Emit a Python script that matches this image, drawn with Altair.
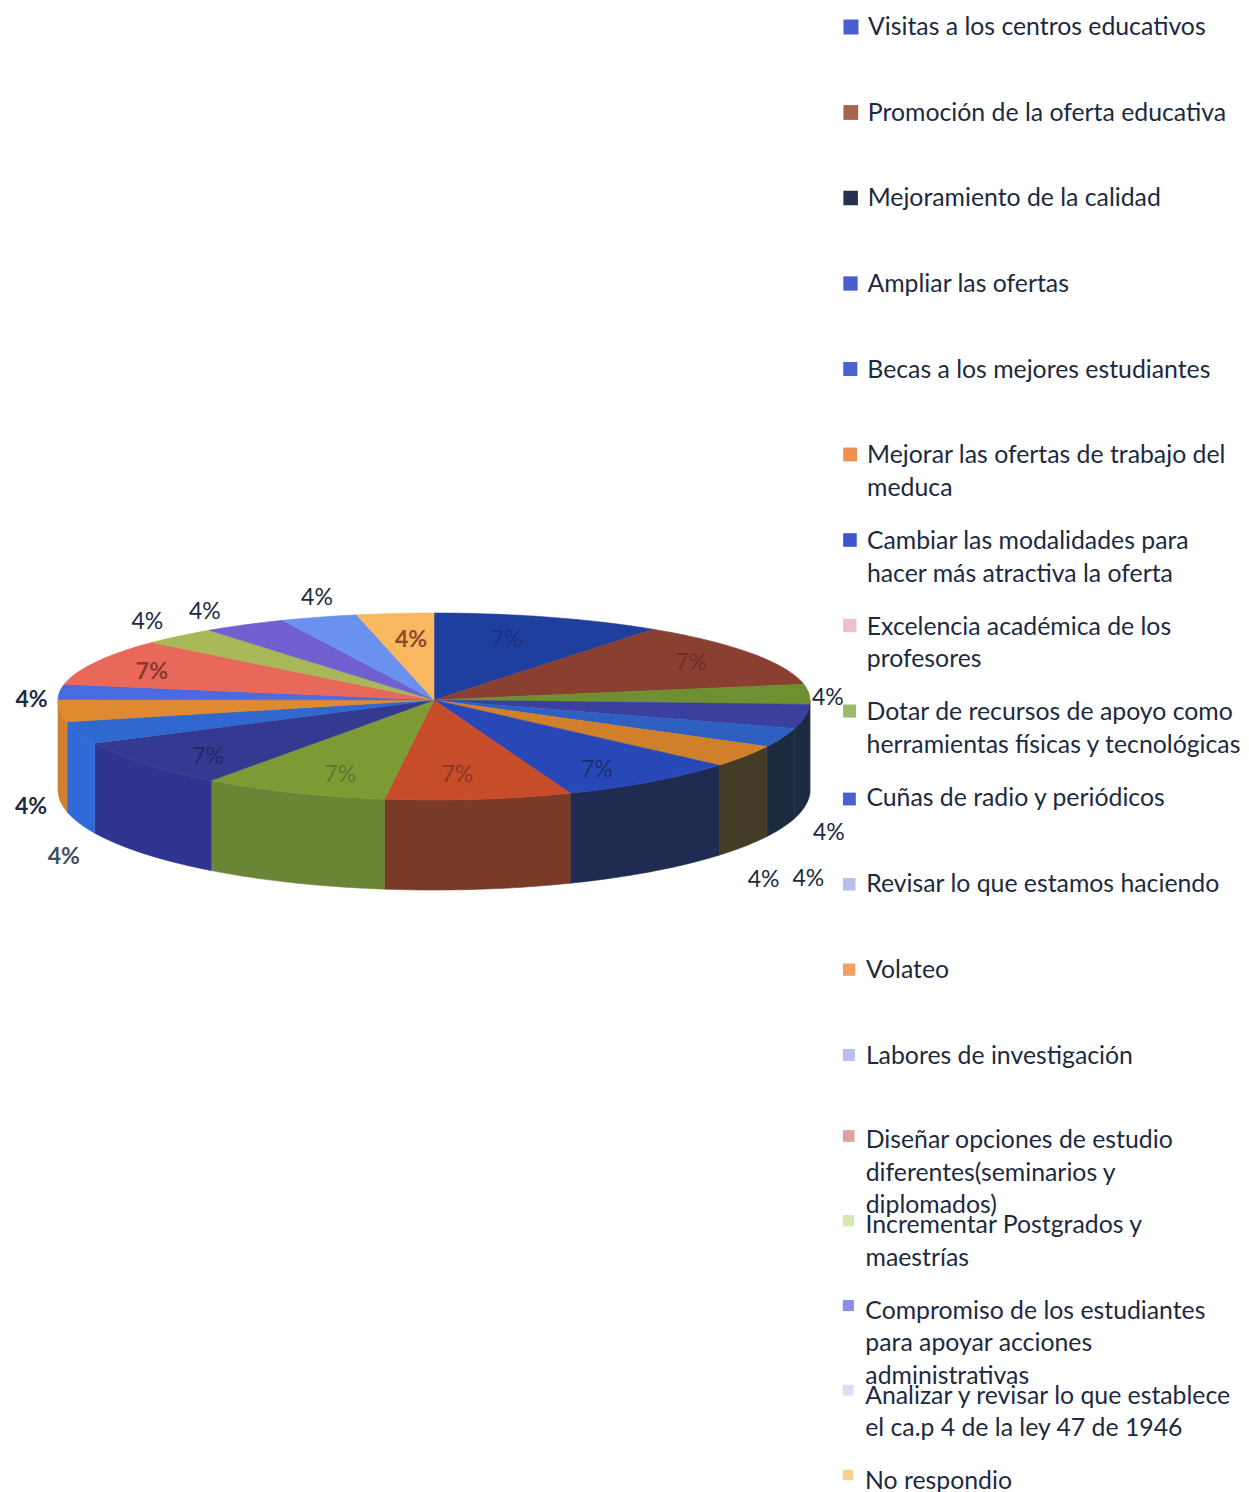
import math
import altair as alt

categories = [
    "Visitas a los centros educativos",
    "Promoción de la oferta educativa",
    "Mejoramiento de la calidad",
    "Ampliar las ofertas",
    "Becas a los mejores estudiantes",
    "Mejorar las ofertas de trabajo del\nmeduca",
    "Cambiar las modalidades para\nhacer más atractiva la oferta",
    "Excelencia académica de los\nprofesores",
    "Dotar de recursos de apoyo como\nherramientas físicas y  tecnológicas",
    "Cuñas de radio y periódicos",
    "Revisar lo que estamos haciendo",
    "Volateo",
    "Labores de investigación",
    "Diseñar opciones de estudio\ndiferentes(seminarios y\ndiplomados)",
    "Incrementar Postgrados y\nmaestrías",
    "Compromiso de los estudiantes\npara apoyar acciones\nadministrativas",
    "Analizar y revisar lo que establece\nel ca.p 4  de la ley 47 de 1946",
    "No respondio",
]
# Apparent share of the drawn disc (percent of the turn)
shares = [9.9, 12.2, 3.6, 3.9, 3.1, 3.6, 7.8, 8.0, 8.0, 7.8, 3.6, 3.6, 2.8, 8.6, 3.3, 3.6, 3.3, 3.3]
labels = ["7%", "7%", "4%", "4%", "4%", "4%", "7%", "7%", "7%", "7%", "4%", "4%", "4%", "7%", "4%", "4%", "4%", "4%"]

top_colors = ["#1f3f9e", "#8a4030", "#6f9030", "#3b3f9e", "#2f5fc0", "#d0802a", "#2848b8", "#c64c2a", "#7d9a35",
              "#343a90", "#3068d0", "#e08a30", "#4a6ae0", "#e8685a", "#a8b858", "#7060d0", "#6a90f0", "#f8b860"]
wall_colors = ["#1f3f9e", "#8a4030", "#1c2b40", "#1c2b40", "#1c2b40", "#453c28", "#1f2b50", "#7a3a28", "#6a8535",
               "#2f3490", "#2f6ad8", "#d08030", "#4a6ae0", "#e8685a", "#a8b858", "#7060d0", "#6a90f0", "#f8b860"]
legend_colors = ["#4a5fcf", "#a66450", "#27304f", "#4a5fcf", "#4a62d0", "#f09050", "#3c55cc", "#ecc0c8", "#9db96a",
                 "#4a60d0", "#b8bfef", "#f0a060", "#b8bfef", "#e0a0a0", "#d5e8b5", "#8a90e8", "#d8e0f5", "#f8d090"]
label_colors = ["#1f3080", "#6a3025", "#1c2a3f", "#1c2a3f", "#1c2a3f", "#1c2a3f", "#1c2f70", "#8a3a20", "#5a7a30",
                "#222a60", "#3f4f60", "#1c2a3f", "#1c2a3f", "#8a3a30", "#1c2a3f", "#1c2a3f", "#1c2a3f", "#8a4a30"]

# ---- layout of the tilted disc (page pixels) ----
M = 8
CX, CY, RX, RY_BACK, RY_FRONT, DEPTH = 434 - M, 700 - M, 376, 87, 100, 90
RADIAL = [.63, .81, 1.05, 1.065, 1.075, 1.06, .75, .52, .667, .78, 1.042, 1.078, 1.075, .834, 1.125, 1.21, 1.017, .59]
LIFT = [-8, 1, 4, 115, 138, 120, 9, 23, 13, 7, 123, 96, 9, 4, -6, 3, -18, -9]
BOLD = [10, 11, 12, 13, 17]


def rim(t, k=1.0, drop=0.0):
    c = math.cos(t)
    ry = RY_BACK if c > 0 else RY_FRONT
    return [CX + k * RX * math.sin(t), CY - k * ry * c + drop]


def arc(a, b):
    n = max(2, int(abs(b - a) / math.radians(1)))
    return [a + (b - a) * i / n for i in range(n + 1)]


total = sum(shares)
bounds = [0.0]
for s in shares:
    bounds.append(bounds[-1] + s / total * 2 * math.pi)

tops, walls, label_rows = [], [], []
for i in range(len(shares)):
    a, b = bounds[i], bounds[i + 1]
    ring = [[CX, CY]] + [rim(t) for t in arc(a, b)] + [[CX, CY]]
    tops.append({"type": "Feature", "properties": {"fill": top_colors[i]},
                 "geometry": {"type": "Polygon", "coordinates": [ring]}})
    lo, hi = max(a, math.pi / 2), min(b, 3 * math.pi / 2)
    if hi > lo:
        ts = arc(lo, hi)
        wring = [rim(t) for t in ts] + [rim(t, drop=DEPTH) for t in reversed(ts)]
        wring.append(wring[0])
        walls.append({"type": "Feature", "properties": {"fill": wall_colors[i]},
                      "geometry": {"type": "Polygon", "coordinates": [wring]}})
    mid = (a + b) / 2
    p = rim(mid, RADIAL[i], LIFT[i])
    label_rows.append({"lx": p[0], "ly": p[1], "label": labels[i], "c": label_colors[i], "heavy": i in BOLD})

W, H = 1233, 1484


def geo(features):
    return alt.Chart(alt.InlineData(values=features)).mark_geoshape(strokeWidth=0.6).encode(
        fill=alt.Fill("properties.fill:N", scale=None),
        stroke=alt.Stroke("properties.fill:N", scale=None),
    ).project(type="identity", scale=1, translate=[0, 0])


px_x = alt.Scale(domain=[0, W], range=[0, W])
px_y = alt.Scale(domain=[0, H], range=[0, H])


def pie_text(heavy):
    subset = [r for r in label_rows if r["heavy"] == heavy]
    return alt.Chart(alt.Data(values=subset)).mark_text(
        font="Lato", fontSize=23, align="center", baseline="middle", fontWeight="bold" if heavy else "normal"
    ).encode(
        x=alt.X("lx:Q", scale=px_x, axis=None),
        y=alt.Y("ly:Q", scale=px_y, axis=None),
        text="label:N",
        color=alt.Color("c:N", scale=None),
    )


rows = [{"row": i, "name": categories[i], "c": legend_colors[i]} for i in range(len(categories))]

legend_marks = alt.Chart(alt.Data(values=rows)).mark_square(opacity=1).encode(
    x=alt.X("row:Q", scale=alt.Scale(domain=[0, 17], range=[851 - M, 848 - M]), axis=None),
    y=alt.Y("row:Q", scale=alt.Scale(domain=[0, 8, 9, 12, 13, 17],
                                     range=[27 - M, 711 - M, 799 - M, 1055 - M, 1136 - M, 1475 - M]), axis=None),
    size=alt.Size("row:Q", scale=alt.Scale(domain=[0, 17], range=[225, 110]), legend=None),
    color=alt.Color("c:N", scale=None),
)

legend_text = alt.Chart(alt.Data(values=rows)).mark_text(
    font="Lato", fontSize=24.8, align="left", baseline="alphabetic", lineBreak="\n", lineHeight=32.5, color="#1c2a3f"
).encode(
    x=alt.X("row:Q", scale=alt.Scale(domain=[0, 17], range=[868 - M, 865 - M]), axis=None),
    y=alt.Y("row:Q", scale=alt.Scale(domain=[0, 9, 10, 12, 13, 17],
                                     range=[35 - M, 806 - M, 892 - M, 1064 - M, 1148 - M, 1489 - M]), axis=None),
    text="name:N",
)

chart = alt.layer(geo(walls), geo(tops), pie_text(False), pie_text(True), legend_marks, legend_text).resolve_scale(
    x="independent", y="independent", size="independent", color="independent"
).properties(
    width=W, height=H, autosize=alt.AutoSizeParams(type="none"), padding=0
).configure_view(stroke=None)

chart.save("out.html", embed_options={"renderer": "svg", "actions": False})
